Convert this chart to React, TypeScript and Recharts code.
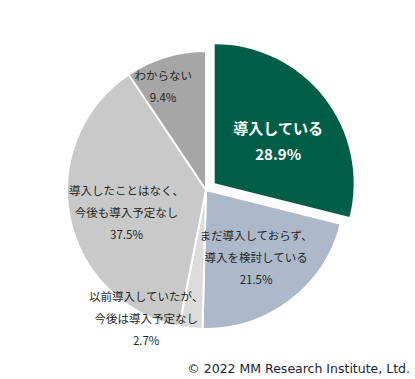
import { PieChart, Pie, Cell } from 'recharts';

const categories = [
  '導入している',
  'まだ導入しておらず、\n導入を検討している',
  '以前導入していたが、\n今後は導入予定なし',
  '導入したことはなく、\n今後も導入予定なし',
  'わからない',
];
const shares = [28.9, 21.5, 2.7, 37.5, 9.4];
const colors = ['#005E46', '#ADB9CA', '#DCDCDC', '#C9C9C9', '#A6A6A6'];

const data = categories.map((name, i) => ({ name, value: shares[i] }));

const CX = 201;
const CY = 185;
const R = 139;
const EXPLODE = 11;
const RAD = Math.PI / 180;

// label radius + nudge per slice
const labelPos = [
  { r: 78, dx: 7, dy: 10 },
  { r: 91, dx: 0, dy: 0 },
  { r: 144, dx: -39, dy: -10 },
  { r: 79, dx: 3, dy: 11 },
  { r: 106, dx: -7, dy: 2 },
];

// green slice mid angle -> offset for exploded slice
const greenMid = 90 - (shares[0] / 2 / 100) * 360;
const GX = CX + EXPLODE * Math.cos(greenMid * RAD);
const GY = CY - EXPLODE * Math.sin(greenMid * RAD);

function renderLabel(props: any) {
  const { midAngle, index } = props;
  const bold = index === 0;
  const ox = bold ? GX : CX;
  const oy = bold ? GY : CY;
  const p = labelPos[index];
  const x = ox + p.r * Math.cos(-midAngle * RAD) + p.dx;
  const y = oy + p.r * Math.sin(-midAngle * RAD) + p.dy;
  const lines = [...categories[index].split('\n'), `${shares[index].toFixed(1)}%`];
  const lh = bold ? 26 : 22;
  const top = y - ((lines.length - 1) * lh) / 2;
  return (
    <text
      key={`lbl-${index}`}
      textAnchor="middle"
      dominantBaseline="central"
      fontFamily="'Noto Sans CJK JP', sans-serif"
      fontSize={bold ? 15 : 11.5}
      fontWeight={bold ? 700 : 400}
      fill={bold ? '#ffffff' : '#262626'}
    >
      {lines.map((l, k) => (
        <tspan key={k} x={x} y={top + k * lh}>
          {l}
        </tspan>
      ))}
    </text>
  );
}

export default function App() {
  return (
    <div style={{ position: 'absolute', top: 0, left: 0, width: 415, height: 379, background: '#fff' }}>
      <PieChart width={415} height={379}>
        <Pie
          data={data}
          dataKey="value"
          cx={CX}
          cy={CY}
          outerRadius={R}
          startAngle={90}
          endAngle={-270}
          stroke="#ffffff"
          strokeWidth={2}
          isAnimationActive={false}
          labelLine={false}
          label={false}
        >
          {data.map((d, i) => (
            <Cell
              key={d.name}
              fill={i === 0 ? 'none' : colors[i]}
              stroke={i === 0 ? 'none' : '#ffffff'}
            />
          ))}
        </Pie>
        <Pie
          data={data}
          dataKey="value"
          cx={GX}
          cy={GY}
          outerRadius={R}
          startAngle={90}
          endAngle={-270}
          isAnimationActive={false}
          labelLine={false}
          label={false}
        >
          {data.map((d, i) => (
            <Cell
              key={d.name}
              fill={i === 0 ? colors[0] : 'none'}
              stroke="none"
            />
          ))}
        </Pie>
        <Pie
          data={data}
          dataKey="value"
          cx={CX}
          cy={CY}
          outerRadius={R}
          startAngle={90}
          endAngle={-270}
          isAnimationActive={false}
          labelLine={false}
          label={renderLabel}
        >
          {data.map((d) => (
            <Cell key={d.name} fill="none" stroke="none" />
          ))}
        </Pie>
        <text
          x={410}
          y={368}
          textAnchor="end"
          dominantBaseline="central"
          fontFamily="'DejaVu Sans', sans-serif"
          fontSize={12.5}
          fill="#222233"
        >
          © 2022 MM Research Institute, Ltd.
        </text>
      </PieChart>
    </div>
  );
}
